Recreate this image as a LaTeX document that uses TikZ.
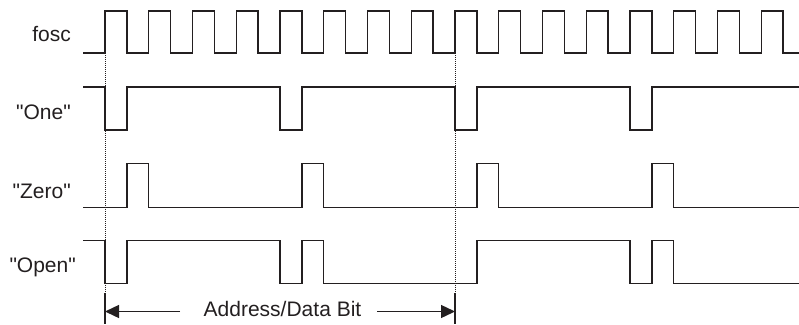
\documentclass[tikz,border=0pt]{standalone}
\usepackage{fontspec}
\setmainfont{Liberation Sans}[Ligatures=TeXOff]
\usetikzlibrary{arrows.meta}
\definecolor{ink}{RGB}{35,31,32}
\begin{document}
\begin{tikzpicture}[x=1pt,y=-1pt,
  wave/.style={draw=ink,line width=1.4pt,line join=miter},
  guide/.style={draw=ink,line width=0.9pt,dash pattern=on 1pt off 1pt},
  tick/.style={draw=ink,line width=1.4pt},
  dim/.style={draw=ink,line width=1.4pt,-{Triangle[length=14pt,width=13pt]}},
  lbl/.style={font=\fontsize{21}{24}\selectfont,text=ink,inner sep=0pt}]
\useasboundingbox (0,0) rectangle (799,324);
\def\P{43.75}
\def\h{21.875}
% fosc
\draw[wave] (83,53) -- (105,53)
  \foreach \k in {0,...,15}{ -- ({105+\k*\P},53) -- ({105+\k*\P},11) -- ({105+\k*\P+\h},11) -- ({105+\k*\P+\h},53) }
  -- (799,53);
% One
\draw[wave] (83,87) -- (105,87) -- (105,130) -- (126.875,130) -- (126.875,87)
  -- (280,87) -- (280,130) -- (301.875,130) -- (301.875,87)
  -- (455,87) -- (455,130) -- (476.875,130) -- (476.875,87)
  -- (630,87) -- (630,130) -- (651.875,130) -- (651.875,87) -- (799,87);
% Zero
\draw[wave] (83,207.5) -- (126.875,207.5) -- (126.875,163.5) -- (148.75,163.5) -- (148.75,207.5)
  -- (301.875,207.5) -- (301.875,163.5) -- (323.75,163.5) -- (323.75,207.5)
  -- (476.875,207.5) -- (476.875,163.5) -- (498.75,163.5) -- (498.75,207.5)
  -- (651.875,207.5) -- (651.875,163.5) -- (673.75,163.5) -- (673.75,207.5) -- (799,207.5);
% Open
\draw[wave] (83,240.7) -- (105,240.7) -- (105,283.3) -- (126.875,283.3) -- (126.875,240.7)
  -- (280,240.7) -- (280,283.3) -- (301.875,283.3) -- (301.875,240.7) -- (323.75,240.7) -- (323.75,283.3)
  -- (476.875,283.3) -- (476.875,240.7)
  -- (630,240.7) -- (630,283.3) -- (651.875,283.3) -- (651.875,240.7) -- (673.75,240.7) -- (673.75,283.3) -- (799,283.3);
% labels
\node[lbl,anchor=base east] (lfosc) at (71,41) {fosc};
\node[lbl,anchor=base east] (lone) at (71,119) {"One"};
\node[lbl,anchor=base east] (lzero) at (71,198) {"Zero"};
\node[lbl,anchor=base east] (lopen) at (76,272) {"Open"};
% guides
\coordinate (gA) at (105,55);
\coordinate (gB) at (455,55);
\coordinate (tA) at (105,293);
\coordinate (tB) at (455,293);
\coordinate (bA) at (105,324);
\coordinate (bB) at (455,324);
\path[guide] (gA) -- (tA);
\path[guide] (gB) -- (tB);
\path[tick] (tA) -- (bA);
\path[tick] (tB) -- (bB);
% dimension
\node[lbl,anchor=base] (bit) at (282.5,316.5) {Address/Data Bit};
\coordinate (aL) at (105,311.5);
\coordinate (aR) at (455,311.5);
\coordinate (sL) at (180,311.5);
\coordinate (sR) at (377,311.5);
\draw[dim] (sL) -- (aL);
\draw[dim] (sR) -- (aR);
\end{tikzpicture}
\end{document}
